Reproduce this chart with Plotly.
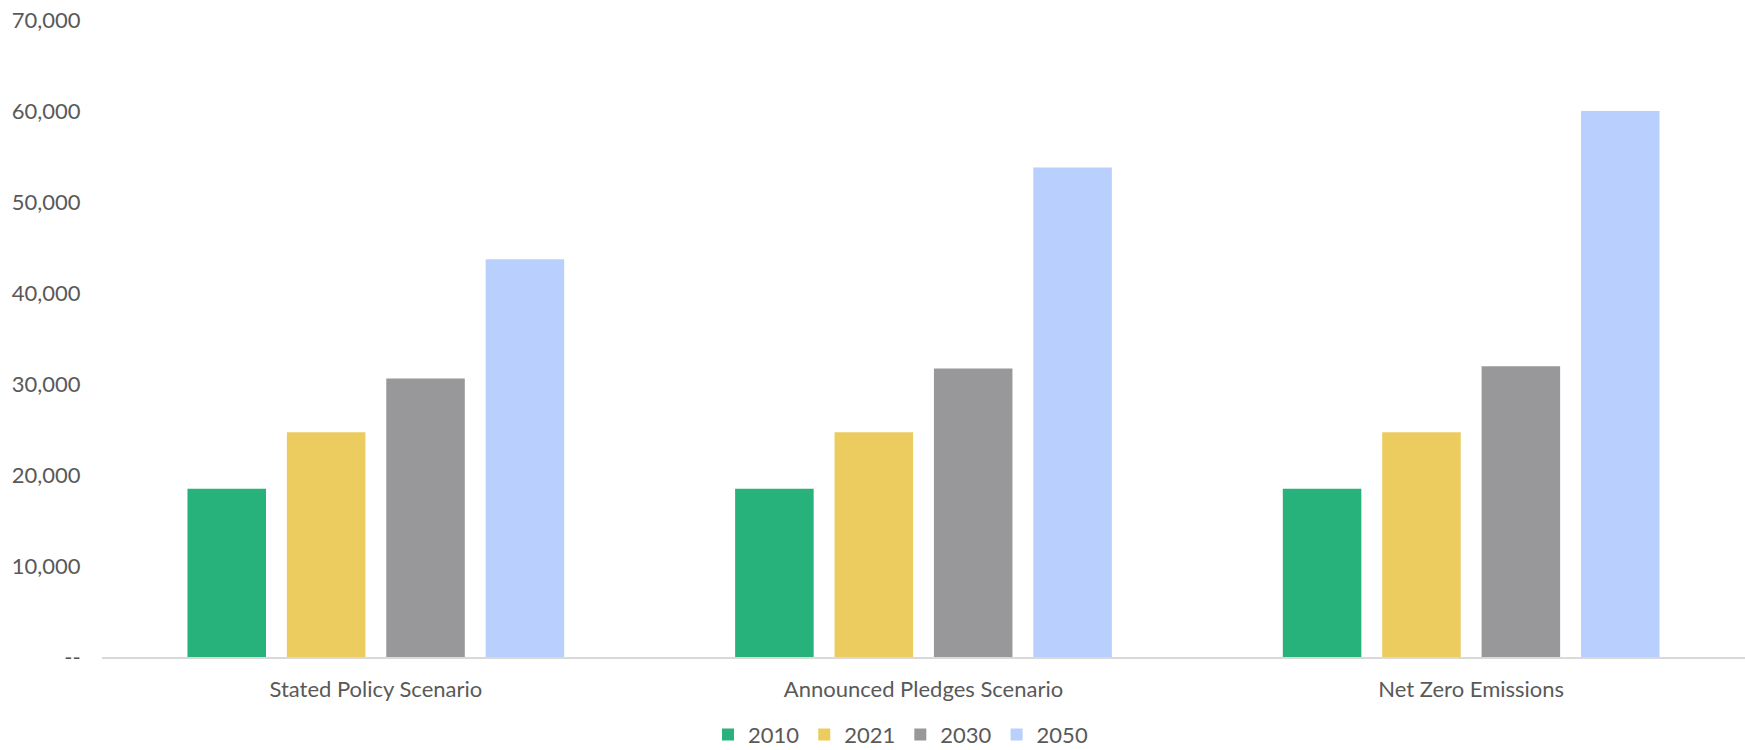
import plotly.graph_objects as go

categories = ["Stated Policy Scenario", "Announced Pledges Scenario", "Net Zero Emissions"]
series_names = ["2010", "2021", "2030", "2050"]
v2010 = [18500, 18500, 18500]
v2021 = [24700, 24700, 24700]
v2030 = [30600, 31700, 31950]
v2050 = [43700, 53800, 60000]
colors = ["#27B17B", "#ECCB5F", "#98989A", "#B9CFFE"]

y_tickvals = [0, 10000, 20000, 30000, 40000, 50000, 60000, 70000]
y_ticktext = ["--", "10,000", "20,000", "30,000", "40,000", "50,000", "60,000", "70,000"]

FONT = "Lato, 'Open Sans', sans-serif"
TXT = "#595959"

fig = go.Figure()
for name, vals, col in zip(series_names, [v2010, v2021, v2030, v2050], colors):
    fig.add_trace(go.Bar(name=name, x=categories, y=vals,
                         marker=dict(color=col, line=dict(width=0))))

fig.update_layout(
    width=1745, height=750,
    margin=dict(l=102, r=0, t=20, b=93, autoexpand=False),
    paper_bgcolor="white", plot_bgcolor="white",
    barmode="group", bargap=0.274, bargroupgap=0.21,
    font=dict(family=FONT, size=22, color=TXT),
    showlegend=True,
    legend=dict(orientation="h", x=0.486, xanchor="center", y=-0.122, yanchor="middle",
                font=dict(family=FONT, size=22, color=TXT), traceorder="normal"),
    xaxis=dict(showgrid=False, showline=True, linecolor="#D9D9D9", linewidth=2,
               ticks="outside", ticklen=12, tickcolor="rgba(0,0,0,0)",
               tickfont=dict(family=FONT, size=22, color=TXT)),
    yaxis=dict(range=[0, 70000], showgrid=False, showline=False, zeroline=False,
               tickvals=y_tickvals, ticktext=y_ticktext,
               ticks="outside", ticklen=16, tickcolor="rgba(0,0,0,0)",
               tickfont=dict(family=FONT, size=22, color=TXT)),
)

fig.write_html("out.html")
